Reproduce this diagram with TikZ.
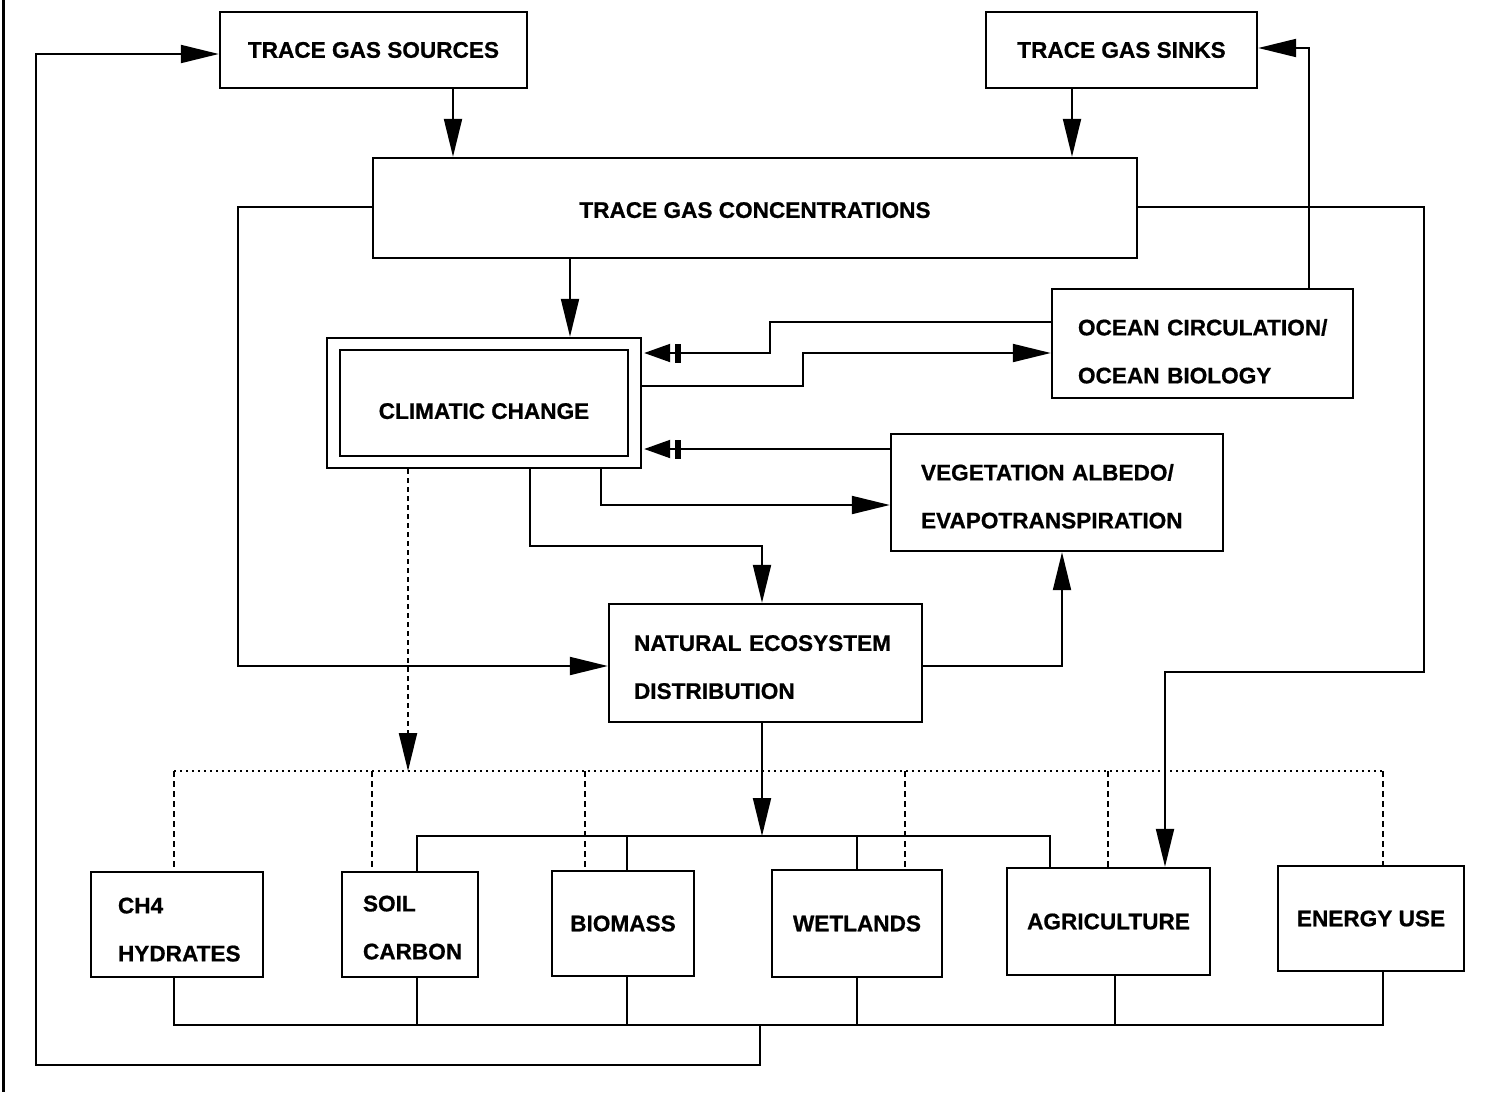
\documentclass[tikz,border=0pt]{standalone}
\usepackage{fontspec}
\setmainfont{Liberation Sans}[BoldFeatures={FakeBold=0.8}]
\usetikzlibrary{arrows.meta}
\newcommand{\lab}{\fontsize{11.3}{24}\selectfont\bfseries}
\newcommand{\lift}[1]{\rule{0pt}{#1}}
\begin{document}
\begin{tikzpicture}[x=0.5pt,y=-0.5pt,
  box/.style={draw, line width=1.2pt, inner sep=0pt, font=\lab},
  ml/.style={align=left},
  conn/.style={line width=1pt},
  arr/.style={conn, -{Triangle[length=19pt,width=9pt]}},
  darr/.style={conn, -{Rectangle[length=3pt,width=9.5pt,sep=2.5pt] Triangle[length=13pt,width=9pt,sep=1pt]}},
  dshln/.style={line width=1pt, dash pattern=on 3pt off 2pt},
  dshthick/.style={line width=1.1pt, dash pattern=on 2.5pt off 2pt},
  dotln/.style={line width=1pt, dash pattern=on 1pt off 2pt},
]
\useasboundingbox (0,0) rectangle (1492,1092);

% left border
\draw[line width=1.5pt] (3,0) -- (3,1092);

% boxes
\node[box, minimum width=153.5pt, minimum height=38pt] (src) at (373.5,50) {TRACE GAS SOURCES};
\node[box, minimum width=135.5pt, minimum height=38pt] (snk) at (1121.5,50) {TRACE GAS SINKS};
\node[box, minimum width=382pt, minimum height=50pt] (conc) at (755,208) {\lift{10pt}TRACE GAS CONCENTRATIONS};
\node[box, minimum width=157pt, minimum height=65pt] (clim) at (484,403) {};
\node[box, minimum width=144pt, minimum height=53pt] (climin) at (484,403) {\lift{16pt}CLIMATIC CHANGE};
\node[box, ml, minimum width=150.5pt, minimum height=54.5pt, text width=124.5pt, inner xsep=13pt] (ocean) at (1202.5,343.5) {\mbox{\lift{16pt}OCEAN CIRCULATION/}\\\mbox{OCEAN BIOLOGY}};
\node[box, ml, minimum width=166pt, minimum height=58.5pt, text width=136pt, inner xsep=15pt] (veg) at (1057,492.5) {\mbox{\lift{12pt}VEGETATION ALBEDO/}\\\mbox{EVAPOTRANSPIRATION}};
\node[box, ml, minimum width=156.5pt, minimum height=59pt, text width=131.5pt, inner xsep=12.5pt] (ne) at (765.5,663) {\mbox{\lift{12pt}NATURAL ECOSYSTEM}\\\mbox{DISTRIBUTION}};
\node[box, ml, minimum width=86pt, minimum height=52.5pt, text width=59pt, inner xsep=13.5pt] (ch4) at (177,924.5) {\mbox{\lift{13pt}CH4}\\\mbox{HYDRATES}};
\node[box, ml, minimum width=68pt, minimum height=52.5pt, text width=47pt, inner xsep=10.5pt] (soil) at (410,924.5) {\mbox{\lift{11pt}SOIL}\\\mbox{CARBON}};
\node[box, minimum width=71pt, minimum height=52.5pt] (bio) at (623,923.5) {BIOMASS};
\node[box, minimum width=85pt, minimum height=53.5pt] (wet) at (857,923.5) {WETLANDS};
\node[box, minimum width=101.5pt, minimum height=53.5pt] (agri) at (1108.5,921.5) {AGRICULTURE};
\node[box, minimum width=93pt, minimum height=52.5pt] (energy) at (1371,918.5) {ENERGY USE};

% upper connectors
\draw[arr] (src.south -| 453,0) -- (conc.north -| 453,0);
\draw[arr] (snk.south -| 1072,0) -- (conc.north -| 1072,0);
\draw[arr] (conc.south -| 570,0) -- (clim.north -| 570,0);
\draw[darr] (ocean.west |- 0,322) -- (770,322) -- (770,353) -- (clim.east |- 0,353);
\draw[arr] (clim.east |- 0,386) -- (803,386) -- (803,353) -- (ocean.west |- 0,353);
\draw[darr] (veg.west |- 0,449) -- (clim.east |- 0,449);
\draw[arr] (clim.south -| 601,0) -- (601,505) -- (veg.west |- 0,505);
\draw[arr] (clim.south -| 530,0) -- (530,546) -- (762,546) -- (ne.north -| 762,0);
\draw[arr] (ne.east |- 0,666) -- (1062,666) -- (veg.south -| 1062,0);
\draw[arr] (conc.west |- 0,207) -- (238,207) -- (238,666) -- (ne.west |- 0,666);
\draw[arr] (conc.east |- 0,207) -- (1424,207) -- (1424,672) -- (1165,672) -- (agri.north -| 1165,0);
\draw[arr] (ocean.north -| 1309,0) -- (1309,48) -- (snk.east |- 0,48);

% dashed influence of climatic change
\coordinate (dbus) at (408,771);
\draw[dshthick, -{Triangle[length=19pt,width=9pt]}] (clim.south -| dbus) -- (dbus);
\draw[dotln] (174,771) -- (1383,771);
\draw[dshln] (174,771) -- (ch4.north -| 174,0);
\draw[dshln] (372,771) -- (soil.north -| 372,0);
\draw[dshln] (585,771) -- (bio.north -| 585,0);
\draw[dshln] (905,771) -- (wet.north -| 905,0);
\draw[dshln] (1108,771) -- (agri.north -| 1108,0);
\draw[dshln] (1383,771) -- (energy.north -| 1383,0);

% solid bus from natural ecosystem
\coordinate (sbus) at (762,836);
\draw[arr] (ne.south -| sbus) -- (sbus);
\draw[conn] (soil.north -| 417,0) -- (417,836) -- (1050,836) -- (agri.north -| 1050,0);
\draw[conn] (627,836) -- (bio.north -| 627,0);
\draw[conn] (857,836) -- (wet.north -| 857,0);

% bottom bus
\draw[conn] (ch4.south -| 174,0) -- (174,1025) -- (1383,1025) -- (energy.south -| 1383,0);
\draw[conn] (soil.south -| 417,0) -- (417,1025);
\draw[conn] (bio.south -| 627,0) -- (627,1025);
\draw[conn] (wet.south -| 857,0) -- (857,1025);
\draw[conn] (agri.south -| 1115,0) -- (1115,1025);

% feedback loop to sources
\coordinate (loop) at (760,1025);
\draw[arr] (loop) -- (760,1065) -- (36,1065) -- (36,54) -- (src.west |- 0,54);
\end{tikzpicture}
\end{document}
